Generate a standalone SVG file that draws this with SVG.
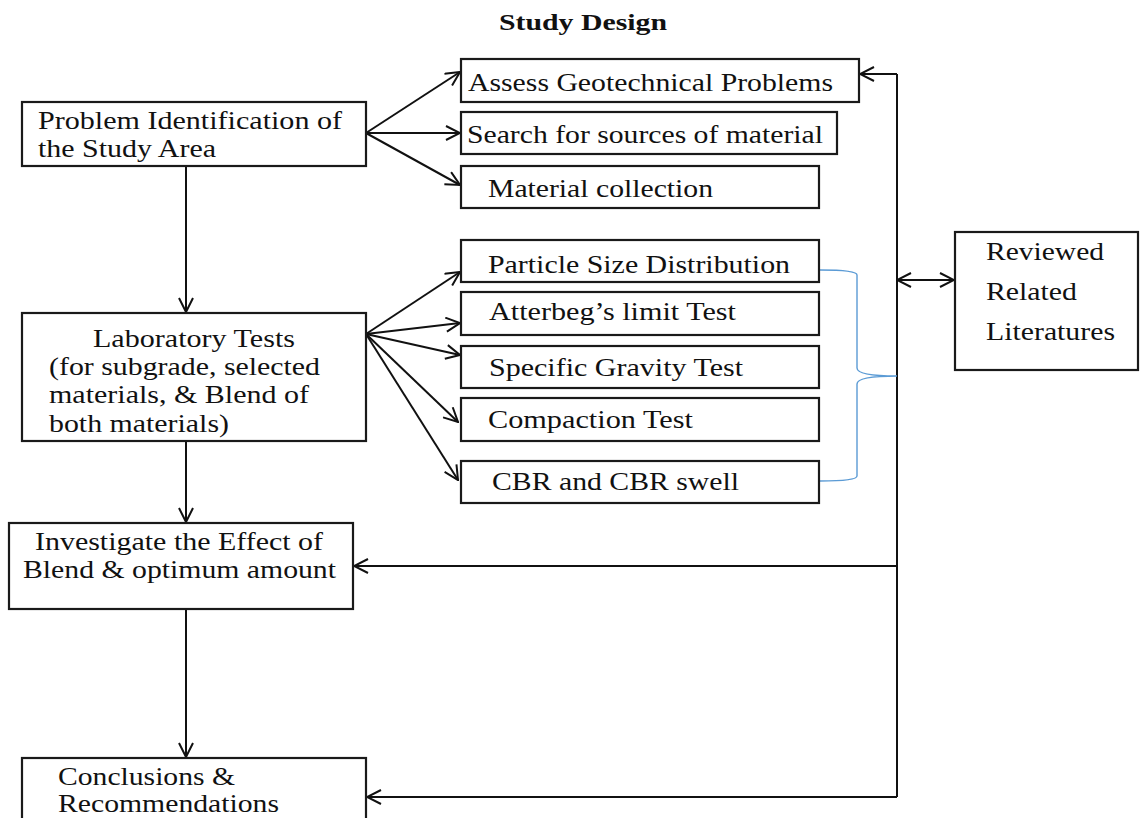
<svg xmlns="http://www.w3.org/2000/svg" width="1140" height="818" viewBox="0 0 1140 818">
<defs>
<style>
.box{fill:#fff;stroke:#1a1a1a;stroke-width:2.2}
.t{font-family:"Liberation Serif","Times New Roman",Times,serif;font-size:25px;fill:#111}
.title{font-family:"Liberation Serif","Times New Roman",Times,serif;font-size:23px;font-weight:bold;fill:#111}
.ln{fill:none;stroke:#111;stroke-width:2}
.br{fill:none;stroke:#5b9bd5;stroke-width:1.4}
</style>
<marker id="ah" viewBox="0 0 16 16" refX="15" refY="8" markerWidth="16" markerHeight="16" markerUnits="userSpaceOnUse" orient="auto-start-reverse">
<path d="M1,1 L15,8 L1,15" fill="none" stroke="#111" stroke-width="2"/>
</marker>
</defs>
<rect width="1140" height="818" fill="#fff"/>
<text class="title" x="499" y="30" textLength="168" lengthAdjust="spacingAndGlyphs">Study Design</text>

<g id="connectors">
<line class="ln" x1="366" y1="133" x2="460" y2="72" marker-end="url(#ah)"/>
<line class="ln" x1="366" y1="133" x2="460" y2="133" marker-end="url(#ah)"/>
<line class="ln" x1="366" y1="133" x2="460" y2="185" marker-end="url(#ah)"/>
<line class="ln" x1="186" y1="166" x2="186" y2="312" marker-end="url(#ah)"/>
<line class="ln" x1="366" y1="334" x2="460" y2="272" marker-end="url(#ah)"/>
<line class="ln" x1="366" y1="334" x2="460" y2="323" marker-end="url(#ah)"/>
<line class="ln" x1="366" y1="334" x2="460" y2="355" marker-end="url(#ah)"/>
<line class="ln" x1="366" y1="334" x2="458" y2="422" marker-end="url(#ah)"/>
<line class="ln" x1="366" y1="334" x2="458" y2="480" marker-end="url(#ah)"/>
<line class="ln" x1="186" y1="441" x2="186" y2="522" marker-end="url(#ah)"/>
<line class="ln" x1="186" y1="609" x2="186" y2="757" marker-end="url(#ah)"/>
<path class="ln" d="M897,74 L897,797"/>
<line class="ln" x1="897" y1="74" x2="860" y2="74" marker-end="url(#ah)"/>
<line class="ln" x1="897" y1="280" x2="954" y2="280" marker-start="url(#ah)" marker-end="url(#ah)"/>
<line class="ln" x1="897" y1="566" x2="354" y2="566" marker-end="url(#ah)"/>
<line class="ln" x1="897" y1="797" x2="367" y2="797" marker-end="url(#ah)"/>
<path class="br" d="M820,270 Q857,270 857,275 L857,368 Q857,376 897,376 Q857,376 857,384 L857,476 Q857,481 820,481"/>
</g>

<g id="problem">
<rect class="box" x="22" y="102" width="344" height="64"/>
<text class="t" x="38" y="129" textLength="304" lengthAdjust="spacingAndGlyphs">Problem Identification of</text>
<text class="t" x="38" y="157" textLength="178" lengthAdjust="spacingAndGlyphs">the Study Area</text>
</g>
<g id="assess">
<rect class="box" x="461" y="59" width="398" height="43"/>
<text class="t" x="468" y="91" textLength="365" lengthAdjust="spacingAndGlyphs">Assess Geotechnical Problems</text>
</g>
<g id="search">
<rect class="box" x="461" y="112" width="376" height="42"/>
<text class="t" x="467" y="143" textLength="356" lengthAdjust="spacingAndGlyphs">Search for sources of material</text>
</g>
<g id="collection">
<rect class="box" x="461" y="166" width="358" height="42"/>
<text class="t" x="488" y="197" textLength="225" lengthAdjust="spacingAndGlyphs">Material collection</text>
</g>
<g id="particle">
<rect class="box" x="461" y="240" width="358" height="42"/>
<text class="t" x="488" y="273" textLength="302" lengthAdjust="spacingAndGlyphs">Particle Size Distribution</text>
</g>
<g id="atterberg">
<rect class="box" x="461" y="292" width="358" height="43"/>
<text class="t" x="489" y="320" textLength="247" lengthAdjust="spacingAndGlyphs">Atterbeg’s limit Test</text>
</g>
<g id="gravity">
<rect class="box" x="461" y="346" width="358" height="42"/>
<text class="t" x="489" y="376" textLength="254" lengthAdjust="spacingAndGlyphs">Specific Gravity Test</text>
</g>
<g id="compaction">
<rect class="box" x="461" y="398" width="358" height="43"/>
<text class="t" x="488" y="428" textLength="205" lengthAdjust="spacingAndGlyphs">Compaction Test</text>
</g>
<g id="cbr">
<rect class="box" x="461" y="461" width="358" height="42"/>
<text class="t" x="492" y="490" textLength="247" lengthAdjust="spacingAndGlyphs">CBR and CBR swell</text>
</g>
<g id="literature">
<rect class="box" x="955" y="232" width="183" height="138"/>
<text class="t" x="986" y="260" textLength="118" lengthAdjust="spacingAndGlyphs">Reviewed</text>
<text class="t" x="986" y="300" textLength="91" lengthAdjust="spacingAndGlyphs">Related</text>
<text class="t" x="986" y="340" textLength="129" lengthAdjust="spacingAndGlyphs">Literatures</text>
</g>
<g id="lab">
<rect class="box" x="22" y="313" width="344" height="128"/>
<text class="t" x="93" y="347" textLength="202" lengthAdjust="spacingAndGlyphs">Laboratory Tests</text>
<text class="t" x="49" y="375" textLength="271" lengthAdjust="spacingAndGlyphs">(for subgrade, selected</text>
<text class="t" x="49" y="403" textLength="260" lengthAdjust="spacingAndGlyphs">materials, &amp; Blend of</text>
<text class="t" x="49" y="432" textLength="180" lengthAdjust="spacingAndGlyphs">both materials)</text>
</g>
<g id="investigate">
<rect class="box" x="9" y="523" width="344" height="86"/>
<text class="t" x="35" y="550" textLength="288" lengthAdjust="spacingAndGlyphs">Investigate the Effect of</text>
<text class="t" x="23" y="578" textLength="313" lengthAdjust="spacingAndGlyphs">Blend &amp; optimum amount</text>
</g>
<g id="conclusions">
<rect class="box" x="22" y="758" width="344" height="70"/>
<text class="t" x="58" y="785" textLength="177" lengthAdjust="spacingAndGlyphs">Conclusions &amp;</text>
<text class="t" x="58" y="812" textLength="221" lengthAdjust="spacingAndGlyphs">Recommendations</text>
</g>
</svg>
